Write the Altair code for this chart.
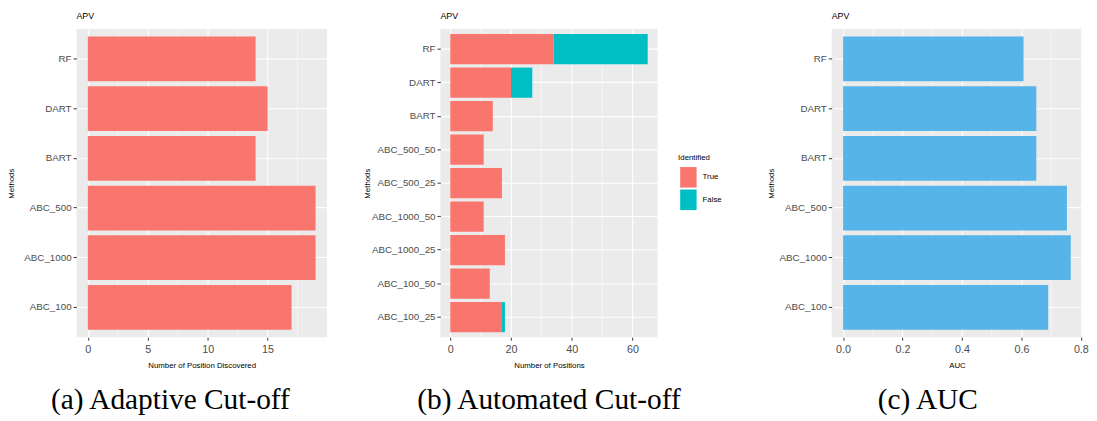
import altair as alt
import pandas as pd

# ---- data ----
methods_a = ["RF", "DART", "BART", "ABC_500", "ABC_1000", "ABC_100"]
discovered_a = [14, 15, 14, 19, 19, 17]

methods_b = ["RF", "DART", "BART", "ABC_500_50", "ABC_500_25",
             "ABC_1000_50", "ABC_1000_25", "ABC_100_50", "ABC_100_25"]
true_b = [34, 20, 14, 11, 17, 11, 18, 13, 17]
false_b = [31, 7, 0, 0, 0, 0, 0, 0, 1]

methods_c = ["RF", "DART", "BART", "ABC_500", "ABC_1000", "ABC_100"]
auc_c = [0.607, 0.650, 0.650, 0.753, 0.766, 0.690]

ticks_a = [0, 5, 10, 15]
minor_a = [2.5, 7.5, 12.5, 17.5]
ticks_b = [0, 20, 40, 60]
minor_b = [10, 30, 50]
ticks_c = [0.0, 0.2, 0.4, 0.6, 0.8]
minor_c = [0.1, 0.3, 0.5, 0.7]

identified = ["True", "False"]
id_colors = ["#F8766D", "#00BFC4"]

SANS = "Liberation Sans"
SERIF = "Liberation Serif"
H = 315


def expanded(mx):
    return [-0.05 * mx, mx * 1.05]


def panel(df, value_field, methods, x_title, ticks, minor, domain, caption,
          width, title_x, cap_dx, color_enc=None, bar_color=None, extra_enc=None,
          transforms=None):
    xscale = alt.Scale(domain=domain, nice=False, zero=False)
    xaxis = alt.Axis(values=ticks, grid=True, gridColor="white", title=x_title,
                     gridWidth=1.1, labelFlush=False, tickSize=3,
                     labelPadding=4, titlePadding=7)
    rules = alt.Chart(pd.DataFrame({"v": minor})).mark_rule(
        color="white", strokeWidth=0.55
    ).encode(x=alt.X("v:Q", scale=xscale, axis=xaxis, title=x_title))

    enc = dict(
        y=alt.Y("Methods:N", sort=methods, title="Methods",
                scale=alt.Scale(paddingInner=0.1, paddingOuter=0.15),
                axis=alt.Axis(bandPosition=0.5, grid=True, gridColor="white",
                              gridWidth=1.1, titleX=title_x, titleBaseline="middle",
                              tickSize=3.5, labelPadding=2, labelFontSize=10)),
        x=alt.X(f"{value_field}:Q", scale=xscale, title=x_title, axis=xaxis),
    )
    if color_enc is not None:
        enc["color"] = color_enc
    if extra_enc:
        enc.update(extra_enc)
    bar_chart = alt.Chart(df)
    if transforms:
        for t in transforms:
            bar_chart = bar_chart.transform_calculate(**t)
    if bar_color:
        bars = bar_chart.mark_bar(color=bar_color).encode(**enc)
    else:
        bars = bar_chart.mark_bar().encode(**enc)

    apv = alt.Chart(pd.DataFrame({"t": ["APV"]})).mark_text(
        align="left", baseline="middle", fontSize=9, font=SANS, color="black"
    ).encode(x=alt.value(0), y=alt.value(-13), text="t:N")

    return alt.layer(rules, bars, apv).properties(
        width=width, height=H,
        title=alt.TitleParams(caption, orient="bottom", anchor="middle", frame="bounds",
                              font=SERIF, fontSize=30, fontWeight="normal",
                              color="black", baseline="alphabetic", offset=40,
                              dx=cap_dx),
    )


df_a = pd.DataFrame({"Methods": methods_a, "count": discovered_a})
df_c = pd.DataFrame({"Methods": methods_c, "auc": auc_c})
rows = []
for m, t, f in zip(methods_b, true_b, false_b):
    rows.append({"Methods": m, "Identified": "True", "n": t})
    rows.append({"Methods": m, "Identified": "False", "n": f})
df_b = pd.DataFrame(rows)

p1 = panel(df_a, "count", methods_a, "Number of Position Discovered", ticks_a, minor_a,
           expanded(max(discovered_a)), "(a) Adaptive Cut-off", 256, -66, 3,
           bar_color="#F8766D")

legend = alt.Legend(title="Identified", orient="none", legendX=235, legendY=120,
                    padding=8, fillColor="white",
                    symbolType="M-0.8,-1H0.8V1H-0.8Z", symbolSize=441,
                    symbolStrokeWidth=0, symbolOpacity=1, labelFontSize=8,
                    titleFontSize=8, titleFontWeight="normal", titleFont=SANS,
                    labelFont=SANS, labelColor="black", titleColor="black",
                    titlePadding=5, rowPadding=2, labelOffset=4)
totals_b = [t + f for t, f in zip(true_b, false_b)]
p2 = panel(df_b, "n", methods_b, "Number of Positions", ticks_b, minor_b,
           expanded(max(totals_b)), "(b) Automated Cut-off", 222, -74, 2,
           color_enc=alt.Color("Identified:N",
                               scale=alt.Scale(domain=identified, range=id_colors),
                               legend=legend),
           extra_enc={"order": alt.Order("ord:Q")},
           transforms=[{"ord": "datum.Identified == 'True' ? 0 : 1"}])

p3 = panel(df_c, "auc", methods_c, "AUC", ticks_c, minor_c,
           expanded(max(auc_c)), "(c) AUC", 256, -62, 0,
           bar_color="#56B4E9")

chart = alt.hconcat(p1, p2, p3, spacing=38).resolve_scale(
    color="independent"
).resolve_legend(color="independent").properties(padding=0).configure_view(
    fill="#EBEBEB", strokeWidth=0
).configure_axis(
    domain=False, tickColor="#333333", labelColor="#4D4D4D", labelFont=SANS,
    titleFont=SANS, titleFontWeight="normal", titleFontSize=8, labelFontSize=11,
    titleColor="black"
)

chart.save("out.html", embed_options={"renderer": "svg", "actions": False})
